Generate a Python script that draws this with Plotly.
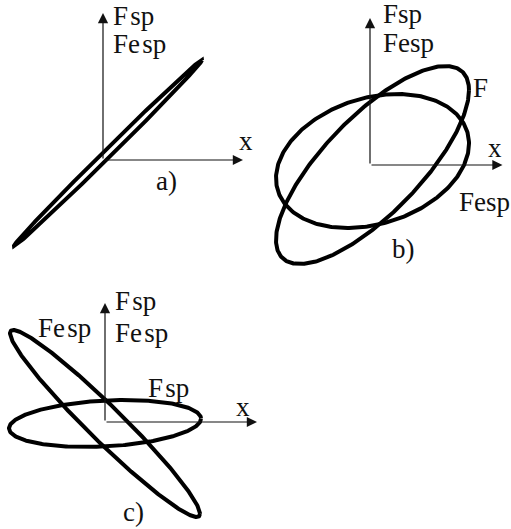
import numpy as np
import plotly.graph_objects as go

# Lissajous loops: x = A cos(wt), F = B cos(wt + phi)
panel_names = ["a)", "b)", "c)"]
curve_panel = [0, 1, 1, 2, 2]
curve_label = ["F", "F", "Fesp", "Fsp", "Fesp"]
amp_x = [94, 96.5, 96.5, 96, 95]
amp_f = [93, 99, 67, 23.5, 93.5]
phase_deg = [3.4, 41, 75, 78, 165]
offset_x = [5, 2.5, 2.5, 0, 0]
offset_f = [7, 0, 4, -1.5, -1.5]

FONT = dict(family="Liberation Serif, Times New Roman, serif", size=27, color="#111")
W, H = 511, 529
HS = "\u200a"

# page-pixel box of each panel and the origin of its axes
panel_box = [(0, 255, 0, 270), (255, 511, 0, 275), (0, 290, 275, 529)]
panel_origin = [(103, 160), (370, 165), (105, 422)]
axis_tip = [(140, 147), (132.5, 147), (152, 119)]

fig = go.Figure()
layout_axes = {}
for i, (box, org) in enumerate(zip(panel_box, panel_origin)):
    x0, x1, y0, y1 = box
    ox, oy = org
    sfx = "" if i == 0 else str(i + 1)
    layout_axes["xaxis" + sfx] = dict(domain=[x0 / W, x1 / W], range=[x0 - ox, x1 - ox],
                                      visible=False, fixedrange=True)
    layout_axes["yaxis" + sfx] = dict(domain=[1 - y1 / H, 1 - y0 / H], range=[oy - y1, oy - y0],
                                      visible=False, fixedrange=True)

t = np.linspace(0, 2 * np.pi, 361)
for k in range(len(curve_label)):
    p = curve_panel[k]
    sfx = "" if p == 0 else str(p + 1)
    phi = np.radians(phase_deg[k])
    fig.add_trace(go.Scatter(
        x=offset_x[k] + amp_x[k] * np.cos(t),
        y=offset_f[k] + amp_f[k] * np.cos(t + phi),
        mode="lines",
        line=dict(color="black", width=4),
        name=curve_label[k],
        showlegend=False,
        hoverinfo="skip",
        xaxis="x" + sfx, yaxis="y" + sfx,
    ))

annotations = []
for i, (tx, ty) in enumerate(axis_tip):
    sfx = "" if i == 0 else str(i + 1)
    for (x, y) in [(tx, 0), (0, ty)]:
        annotations.append(dict(
            x=x, y=y, ax=0, ay=0, xref="x" + sfx, yref="y" + sfx,
            axref="x" + sfx, ayref="y" + sfx, text="", showarrow=True,
            arrowhead=2, arrowsize=1.7, arrowwidth=1.2, arrowcolor="#111",
        ))

# (panel, text, left x, middle y) in each panel's own units
labels = [
    (0, "F" + HS + "sp", 8.5, 144.5), (0, "Fe" + HS + "sp", 8.5, 116.5),
    (0, "x", 134.5, 19.5), (0, "a)", 52, -20.5),
    (1, "Fsp", 11.5, 151), (1, "Fesp", 12, 122.5), (1, "F", 102, 77),
    (1, "x", 116.5, 17), (1, "Fesp", 87.5, -36.5), (1, "b)", 21, -83.5),
    (2, "F" + HS + "sp", 9, 121.5), (2, "Fe" + HS + "sp", 9, 89.5), (2, "Fe" + HS + "sp", -68, 94.5),
    (2, "F" + HS + "sp", 41.5, 34.5), (2, "x", 130, 15), (2, "c)", 16.5, -90),
]
for p, txt, x, y in labels:
    sfx = "" if p == 0 else str(p + 1)
    annotations.append(dict(
        x=x, y=y, xref="x" + sfx, yref="y" + sfx, text=txt, showarrow=False,
        xanchor="left", yanchor="middle", font=FONT, borderpad=0,
    ))

fig.update_layout(
    width=W, height=H,
    margin=dict(l=0, r=0, t=0, b=0),
    paper_bgcolor="white", plot_bgcolor="white",
    showlegend=False,
    annotations=annotations,
    **layout_axes,
)

fig.write_html("out.html", config={"displayModeBar": False},
               post_script="document.body.style.margin='0';")
